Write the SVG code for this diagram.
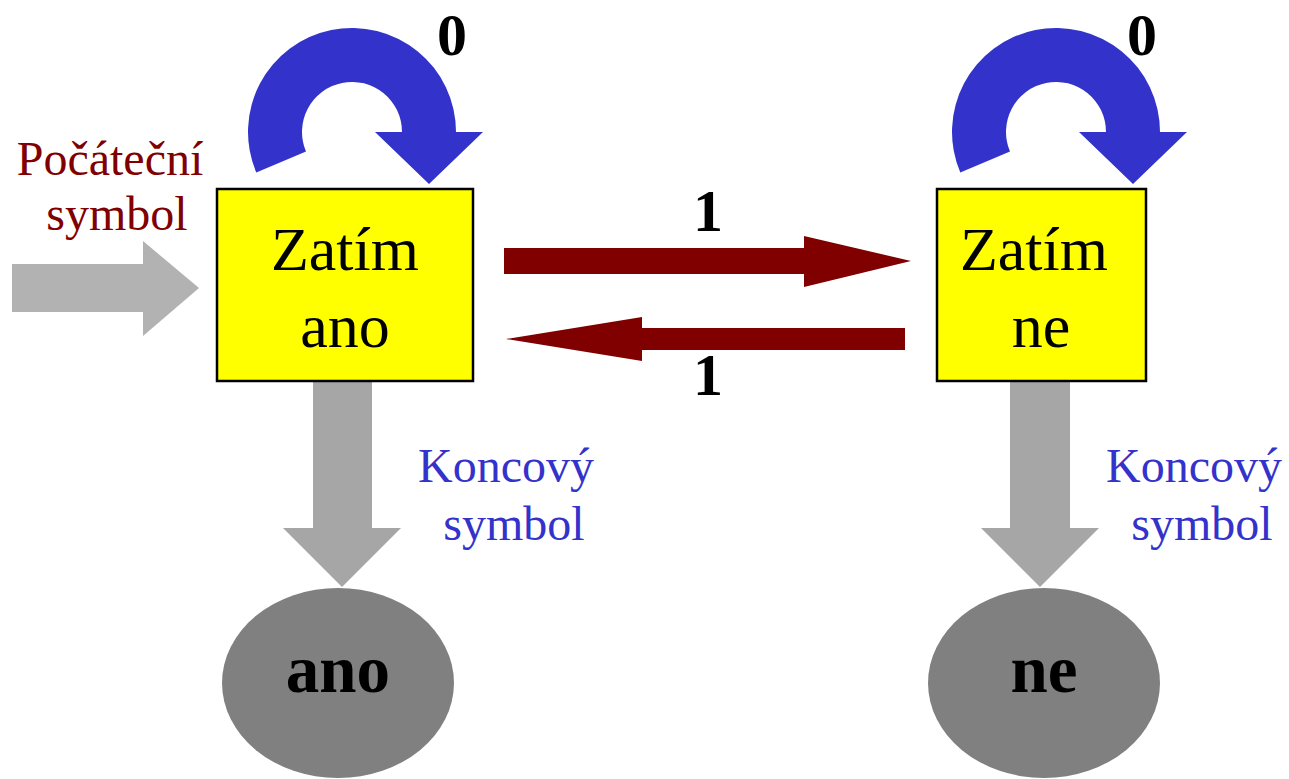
<svg xmlns="http://www.w3.org/2000/svg" width="1289" height="779" viewBox="0 0 1289 779">
<style>
.box{fill:#ffff00;stroke:#000;stroke-width:2.5}
.st{font-family:"Liberation Serif","Times New Roman",serif;font-size:62px;fill:#000;text-anchor:middle}
.lbl{font-family:"Liberation Serif","Times New Roman",serif;font-size:60px;font-weight:bold;fill:#000;text-anchor:middle}
.fin{font-family:"Liberation Serif","Times New Roman",serif;font-size:67px;font-weight:bold;fill:#000;text-anchor:middle}
.red{font-family:"Liberation Serif","Times New Roman",serif;font-size:48px;fill:#800000;text-anchor:middle}
.blue{font-family:"Liberation Serif","Times New Roman",serif;font-size:48px;fill:#3333cc;text-anchor:middle}
.loop{fill:#3333cc}
.tr{fill:#800000}
.gin{fill:#b2b2b2}
.gout{fill:#a6a6a6}
.ell{fill:#808080}
</style>
<g id="connectors">
<path class="gin" d="M12 264 L143 264 L143 241 L199 288 L143 336 L143 312 L12 312 Z"/>
<path class="gout" d="M313 378 L372 378 L372 528 L401 528 L342 587 L283 528 L313 528 Z"/>
<path class="gout" d="M1010 378 L1070 378 L1070 528 L1099 528 L1040 587 L981 528 L1010 528 Z"/>
<path class="tr" d="M504 248 L804 248 L804 236 L911 261 L804 287 L804 274 L504 274 Z"/>
<path class="tr" d="M905 328 L642 328 L642 317 L506 339 L642 361 L642 350 L905 350 Z"/>
<path class="loop" d="M256.3 172.6 A104 104 0 1 1 456 132 L483 132 L429 184 L375 132 L402 132 A50 50 0 1 0 306 151.5 Z"/>
<path class="loop" d="M960.3 172.6 A104 104 0 1 1 1160 132 L1187 132 L1133 184 L1079 132 L1106 132 A50 50 0 1 0 1010 151.5 Z"/>
<text class="lbl" x="452" y="55">0</text>
<text class="lbl" x="1142" y="55">0</text>
<text class="lbl" x="708" y="231">1</text>
<text class="lbl" x="708" y="395">1</text>
<text class="red" x="110" y="175">Počáteční</text>
<text class="red" x="117" y="230">symbol</text>
<text class="blue" x="506" y="482">Koncový</text>
<text class="blue" x="514" y="540">symbol</text>
<text class="blue" x="1194" y="482">Koncový</text>
<text class="blue" x="1202" y="540">symbol</text>
</g>
<g id="node-zatim-ano">
<rect class="box" x="217" y="189" width="256" height="192"/>
<text class="st" x="345" y="270">Zatím</text>
<text class="st" x="345" y="347">ano</text>
</g>
<g id="node-zatim-ne">
<rect class="box" x="937" y="189" width="209" height="192"/>
<text class="st" x="1034" y="270">Zatím</text>
<text class="st" x="1041" y="347">ne</text>
</g>
<g id="node-ano">
<ellipse class="ell" cx="338" cy="683" rx="116" ry="95"/>
<text class="fin" x="338" y="692">ano</text>
</g>
<g id="node-ne">
<ellipse class="ell" cx="1044" cy="683" rx="116" ry="95"/>
<text class="fin" x="1044" y="692">ne</text>
</g>
</svg>
